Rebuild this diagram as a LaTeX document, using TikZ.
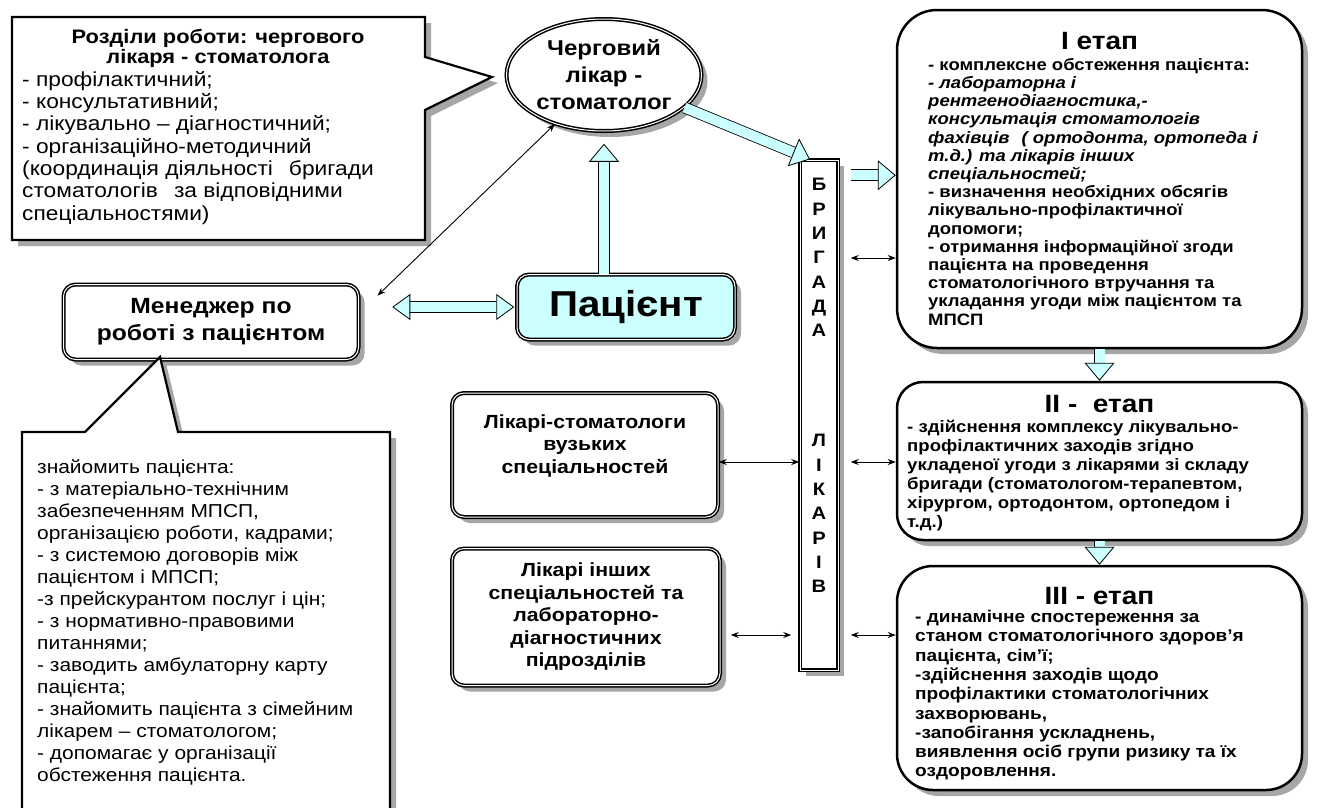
\documentclass[tikz,border=0pt]{standalone}
\usepackage{fontspec}
\setmainfont{Liberation Sans}[FakeStretch=1.12]
\usetikzlibrary{shapes.geometric, arrows.meta, shadows, positioning, calc}
\definecolor{paleblue}{HTML}{CCFFFF}
\newcommand{\setfs}[2]{\fontsize{#1}{#2}\selectfont}
\tikzstyle{dropsh} = [drop shadow = {shadow xshift = 6pt, shadow yshift = -6pt, fill = black!35, opacity = 1}]
\tikzstyle{dbl} = [draw = black, line width = 1.5pt, double = white, double distance = 1pt]
\tikzstyle{card} = [rectangle, rounded corners = 12pt, dbl, dropsh, fill = white, align = center, font = \bfseries\setfs{19}{22.5}]
\tikzstyle{etap} = [rectangle, rounded corners = 40pt, draw = black, line width = 2.5pt, dropsh, fill = white]
\tikzstyle{etitle} = [inner sep = 0pt, font = \bfseries\setfs{25}{28}]
\tikzstyle{ebody} = [anchor = north west, inner sep = 0pt, align = left]
\tikzstyle{callbox} = [draw = black, line width = 2.2pt, fill = white, dropsh]
\tikzstyle{calltext} = [anchor = north west, inner sep = 0pt, align = left]
\tikzstyle{fatarrow} = [draw = black, line width = 0.8pt, double = paleblue, double distance = 10pt, -{Triangle[length = 18pt, width = 30pt, fill = paleblue]}]
\tikzstyle{fatboth} = [fatarrow, {Triangle[length = 18pt, width = 26pt, fill = paleblue]}-{Triangle[length = 18pt, width = 26pt, fill = paleblue]}]
\tikzstyle{thinlink} = [line width = 0.9pt, {Stealth[length = 8pt]}-{Stealth[length = 8pt]}]

\begin{document}
\begin{tikzpicture}[x = 1pt, y = -1pt]
	\fill[white] (0,0) rectangle (1317,807);
	\useasboundingbox (0,0) rectangle (1317,807);

	% callout: duties of the doctor on duty
	\path[callbox] (12,17) -- (425,17) -- (425,57) -- (492,77) -- (425,110) -- (425,240) -- (12,240) -- cycle;
	\node (rozdtitle)[inner sep = 0pt, align = center, font = \bfseries\setfs{19.5}{20}] at (218,48) {Розділи роботи: чергового\\лікаря - стоматолога};
	\node (rozdlist)[calltext, font = \setfs{20.3}{22.3}] at (22,71) {- профілактичний;\\- консультативний;\\- лікувально – діагностичний;\\- організаційно-методичний\\(координація діяльності\hspace{16pt}бригади\\стоматологів\hspace{16pt}за відповідними\\спеціальностями)};

	\node (cherg)[ellipse, dbl, dropsh, fill = white, minimum width = 195pt, minimum height = 112pt, inner sep = 0pt, align = center, font = \bfseries\setfs{21.5}{27}] at (604,75) {Черговий\\лікар -\\стоматолог};
	\node (pacient)[card, fill = paleblue, minimum width = 218pt, minimum height = 65pt, font = \bfseries\setfs{36}{40}] at (626,307) {Пацієнт};
	\node (menedzher)[card, minimum width = 295pt, minimum height = 75pt, font = \bfseries\setfs{22}{27}] at (211,322) {Менеджер по\\роботі з пацієнтом};

	% callout: what the manager does
	\path[callbox] (22,432) -- (85,432) -- (160,357) -- (178,432) -- (390,432) -- (390,815) -- (22,815) -- cycle;
	\node (znaylist)[calltext, font = \setfs{18.7}{22}] at (37,459) {знайомить пацієнта:\\- з матеріально-технічним\\забезпеченням МПСП,\\організацією роботи, кадрами;\\- з системою договорів між\\пацієнтом і МПСП;\\-з прейскурантом послуг і цін;\\- з нормативно-правовими\\питаннями;\\- заводить амбулаторну карту\\пацієнта;\\- знайомить пацієнта з сімейним\\лікарем – стоматологом;\\- допомагає у організації\\обстеження пацієнта.};

	\node (vuzki)[card, minimum width = 266pt, minimum height = 124pt] at (585,455) {Лікарі-стоматологи\\вузьких\\спеціальностей\\\mbox{}};
	\node (inshi)[card, minimum width = 268pt, minimum height = 137pt] at (586,617) {Лікарі інших\\спеціальностей та\\лабораторно-\\діагностичних\\підрозділів};

	\node (brigada)[rectangle, dbl, dropsh, fill = white, minimum width = 38pt, minimum height = 510pt, inner sep = 0pt] at (819,415) {};
	\node (brtext)[anchor = north, inner sep = 0pt, align = center, font = \bfseries\setfs{18}{24.3}] at ([yshift = -19pt]brigada.north) {Б\\Р\\И\\Г\\А\\Д\\А\\[86pt]Л\\І\\К\\А\\Р\\І\\В};

	% stages
	\node (etap1)[etap, minimum width = 405pt, minimum height = 338pt] at (1099.5,179) {};
	\node (etap1t)[etitle, below = 23pt of etap1.north, anchor = north] {І етап};
	\node (etap1b)[ebody, font = \bfseries\setfs{16.5}{18.2}] at (928,58) {- комплексне обстеження пацієнта:\\\textit{- лабораторна і}\\\textit{рентгенодіагностика,-}\\\textit{консультація стоматологів}\\\textit{фахівців\hspace{12pt}( ортодонта, ортопеда і}\\\textit{т.д.) та лікарів інших}\\\textit{спеціальностей;}\\- визначення необхідних обсягів\\лікувально-профілактичної\\допомоги;\\- отримання інформаційної згоди\\пацієнта на проведення\\стоматологічного втручання та\\укладання угоди між пацієнтом та\\МПСП};

	\node (etap2)[etap, rounded corners = 26pt, minimum width = 405pt, minimum height = 158pt] at (1099.5,461) {};
	\node (etap2t)[etitle, below = 14pt of etap2.north, anchor = north] {ІІ -\ \ етап};
	\node (etap2b)[ebody, font = \bfseries\setfs{16.6}{19}] at (907,420) {- здійснення комплексу лікувально-\\профілактичних заходів згідно\\укладеної угоди з лікарями зі складу\\бригади (стоматологом-терапевтом,\\хірургом, ортодонтом, ортопедом і\\т.д.)};

	\node (etap3)[etap, rounded corners = 36pt, minimum width = 405pt, minimum height = 224pt] at (1099.5,678) {};
	\node (etap3t)[etitle, below = 22pt of etap3.north, anchor = north] {ІІІ - етап};
	\node (etap3b)[ebody, font = \bfseries\setfs{17}{19.3}] at (915,610) {- динамічне спостереження за\\станом стоматологічного здоров'я\\пацієнта, сім'ї;\\-здійснення заходів щодо\\профілактики стоматологічних\\захворювань,\\-запобігання ускладнень,\\виявлення осіб групи ризику та їх\\оздоровлення.};

	% fat arrows
	\draw[fatarrow] (pacient.north -| cherg.south) -- ([yshift = -12pt]cherg.south);
	\draw[fatboth] ([xshift = -2pt]pacient.west) -- ([xshift = 33pt]pacient.west -| menedzher.east);
	\draw[fatarrow] (cherg.-22) -- ([xshift = -9pt]brigada.north);
	\coordinate (bfat) at ($(brigada.north east)+(12,16)$);
	\draw[fatarrow] (bfat) -- (bfat -| etap1.west);
	\draw[fatarrow] (etap1.south) -- (etap2.north);
	\draw[fatarrow] (etap2.south) -- (etap3.north);

	% thin links
	\draw[thinlink, shorten < = 6pt] ($(menedzher.north east)+(14,16)$) -- (cherg.-135);
	\draw[thinlink] (vuzki.east |- 0,462) -- (brigada.west |- 0,462);
	\draw[thinlink, shorten < = 10pt, shorten > = 8pt] (inshi.east |- 0,635) -- (brigada.west |- 0,635);
	\draw[thinlink, shorten < = 12pt] (brigada.east |- 0,258) -- (etap1.west |- 0,258);
	\draw[thinlink, shorten < = 12pt] (brigada.east |- 0,462) -- (etap2.west |- 0,462);
	\draw[thinlink, shorten < = 12pt] (brigada.east |- 0,635) -- (etap3.west |- 0,635);
\end{tikzpicture}
\end{document}
